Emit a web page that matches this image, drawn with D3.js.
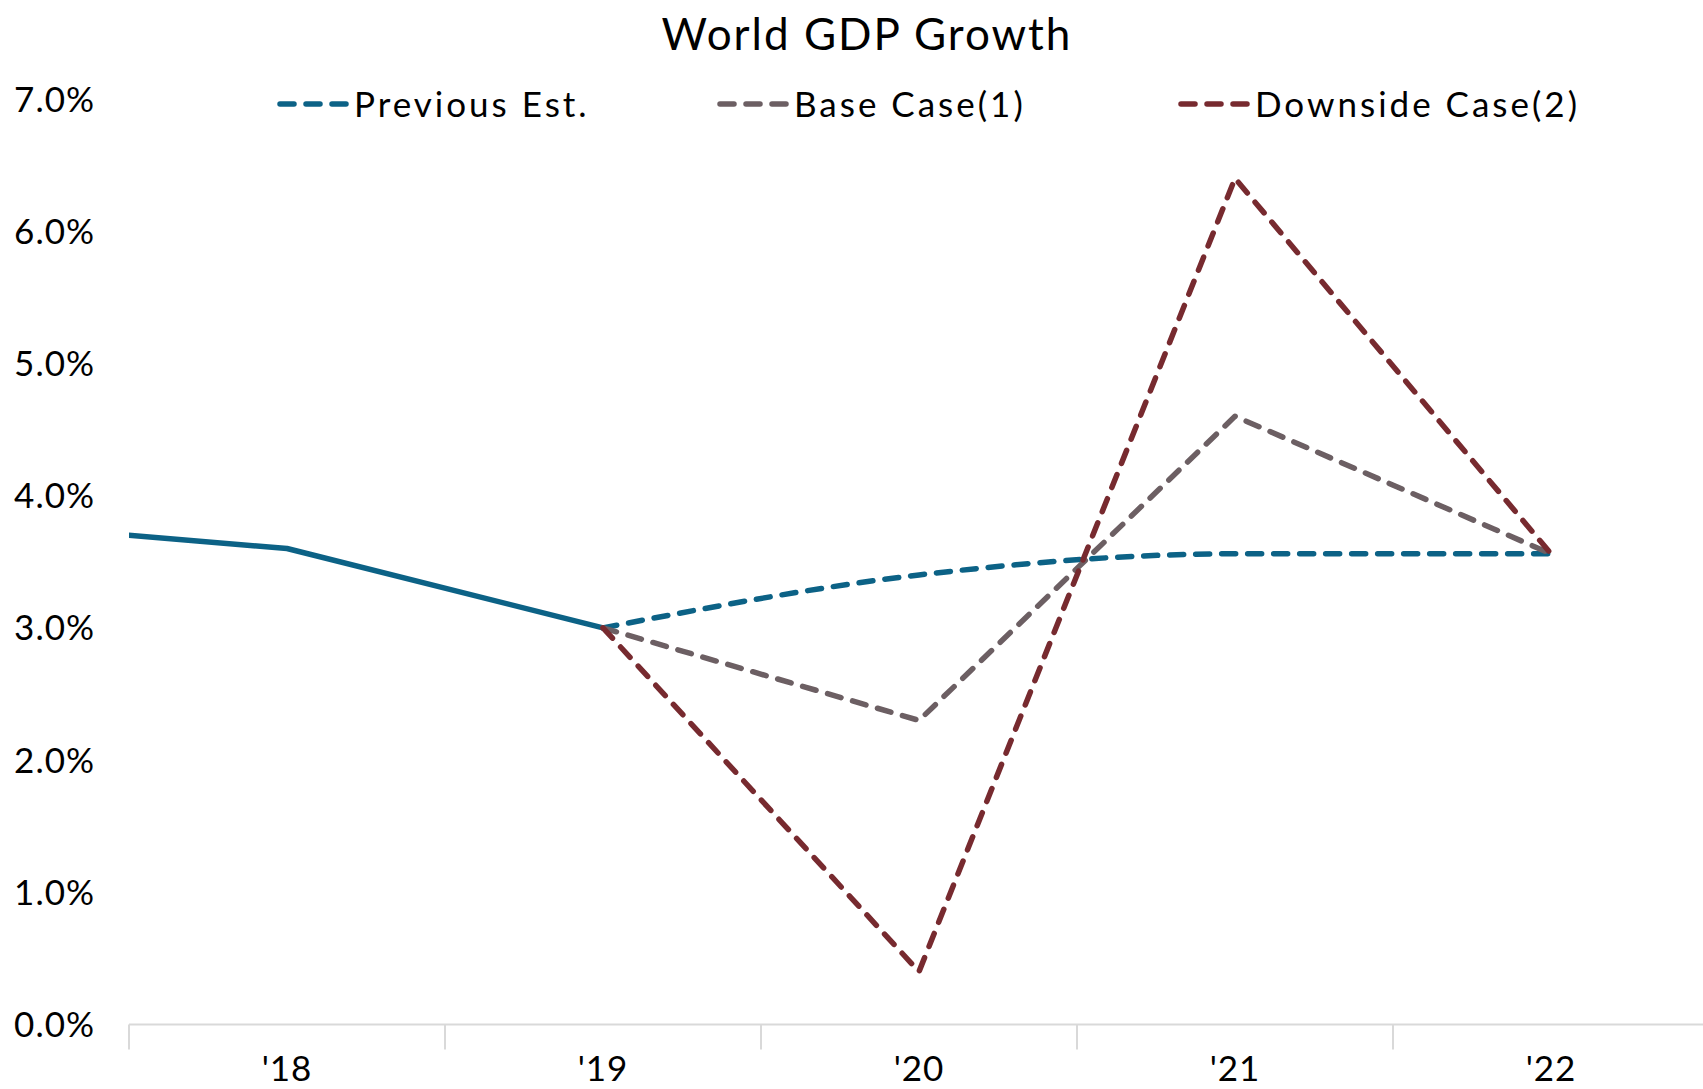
<!DOCTYPE html>
<html>
<head>
<meta charset="utf-8">
<script src="https://cdn.jsdelivr.net/npm/d3@7"></script>
<style>
    body { margin: 0; background: #fff; }
    text { font-family: Lato, "Open Sans", sans-serif; fill: #000; }
</style>
</head>
<body>
<div id="chart"></div>
<script>
//data
const years = ["'17", "'18", "'19", "'20", "'21", "'22"]
const shownYears = ["'18", "'19", "'20", "'21", "'22"]
const actual = [3.8, 3.6, 3.0, null, null, null]
const previousEst = [null, null, 3.0, 3.4, 3.56, 3.56]
const baseCase = [null, null, 3.0, 2.3, 4.6, 3.56]
const downsideCase = [null, null, 3.0, 0.4, 6.4, 3.56]
const yTicks = [0, 1, 2, 3, 4, 5, 6, 7]

const series = [
    {name: "actual", values: actual, color: "#0c6286", dashed: false, smooth: false},
    {name: "Previous Est.", values: previousEst, color: "#0c6286", dashed: true, smooth: true},
    {name: "Base Case(1)", values: baseCase, color: "#6c5f63", dashed: true, smooth: false},
    {name: "Downside Case(2)", values: downsideCase, color: "#772a2f", dashed: true, smooth: false},
]
const legendItems = series.filter(d => d.dashed)

const width = 1703
const height = 1089
const plotLeft = 129
const bw = 316

const $svg = d3.select("#chart").append("svg")
    .attr("width", width)
    .attr("height", height)

const xScale = d3.scaleBand()
    .domain(years)
    .range([plotLeft - bw, plotLeft + (years.length - 1) * bw])
    .padding(0)

const yScale = d3.scaleLinear()
    .domain([0, 7])
    .range([1024.5, 99])

const xMid = d => xScale(d) + xScale.bandwidth() / 2

//title
$svg.append("text")
    .attr("x", 867)
    .attr("y", 50)
    .attr("text-anchor", "middle")
    .style("font-size", "44px")
    .style("letter-spacing", "2px")
    .text("World GDP Growth")

//y labels, no gridlines
$svg.append("g")
    .selectAll("text")
    .data(yTicks)
    .enter().append("text")
    .attr("x", 95)
    .attr("y", d => yScale(d))
    .attr("dy", "0.36em")
    .attr("text-anchor", "end")
    .style("font-size", "35px")
    .style("letter-spacing", "1px")
    .text(d => d3.format(".1f")(d) + "%")

//x axis: line, ticks between categories, labels in the middle
const $xAxis = $svg.append("g")
$xAxis.append("line")
    .attr("x1", plotLeft)
    .attr("x2", width)
    .attr("y1", yScale(0))
    .attr("y2", yScale(0))
    .attr("stroke", "#d9d9d9")
    .attr("stroke-width", 2)
$xAxis.selectAll("line.tick")
    .data(shownYears)
    .enter().append("line")
    .attr("class", "tick")
    .attr("x1", d => xScale(d))
    .attr("x2", d => xScale(d))
    .attr("y1", yScale(0))
    .attr("y2", yScale(0) + 25)
    .attr("stroke", "#d9d9d9")
    .attr("stroke-width", 2)
$xAxis.selectAll("text")
    .data(shownYears)
    .enter().append("text")
    .attr("x", d => xMid(d))
    .attr("y", 1081)
    .attr("text-anchor", "middle")
    .style("font-size", "35px")
    .style("letter-spacing", "1px")
    .text(d => d)

//lines, clipped to the plot on the left
$svg.append("clipPath")
    .attr("id", "plot-clip")
    .append("rect")
    .attr("x", plotLeft)
    .attr("y", 0)
    .attr("width", width - plotLeft)
    .attr("height", height)

const $lines = $svg.append("g").attr("clip-path", "url(#plot-clip)")

series.forEach(s => {
    const line = d3.line()
        .defined(d => d != null)
        .x((d, i) => xMid(years[i]))
        .y(d => yScale(d))
        .curve(s.smooth ? d3.curveMonotoneX : d3.curveLinear)

    $lines.append("path")
        .datum(s.values)
        .attr("d", line)
        .attr("fill", "none")
        .attr("stroke", s.color)
        .attr("stroke-width", 5.5)
        .attr("stroke-linecap", "round")
        .attr("stroke-linejoin", "round")
        .attr("stroke-dasharray", s.dashed ? "14 12" : null)
})

//legend
const legendX = [277, 717, 1178]
const $legend = $svg.append("g")
    .selectAll("g")
    .data(legendItems)
    .enter().append("g")
    .attr("transform", (d, i) => `translate(${legendX[i]}, 104)`)

$legend.append("line")
    .attr("x1", 3)
    .attr("x2", 69)
    .attr("stroke", d => d.color)
    .attr("stroke-width", 5.5)
    .attr("stroke-linecap", "round")
    .attr("stroke-dasharray", "14 12")

$legend.append("text")
    .attr("x", 77)
    .attr("dy", "0.36em")
    .style("font-size", "35px")
    .style("letter-spacing", "3px")
    .text(d => d.name)
</script>
</body>
</html>
